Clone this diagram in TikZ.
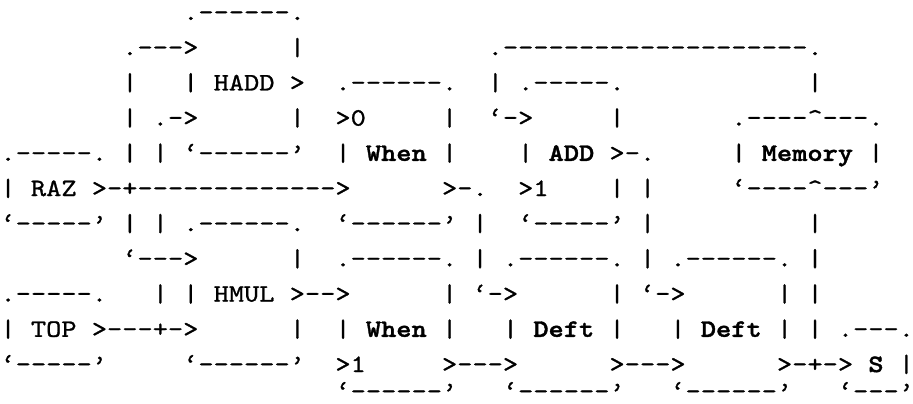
\documentclass[tikz,border=0pt]{standalone}
\usepackage{fontspec}
\newfontfamily\asc{lmmono10-regular.otf}[FakeStretch=1.16,FakeBold=1]
\newfontfamily\ascb{lmmonolt10-bold.otf}[FakeStretch=1.16,FakeBold=1.6]
\newcommand\B[1]{{\ascb #1}}
\newcommand\ca{\char"5E\relax}
\begin{document}
\begin{tikzpicture}[x=0.5pt,y=-0.5pt,
  rowtxt/.style={anchor=base west, inner sep=0pt, outer sep=0pt,
    font=\fontsize{12.5pt}{12.5pt}\asc}]
\fill[white] (0,0) rectangle (913,403);
\useasboundingbox (0,0) rectangle (913,403);
\node[rowtxt] (r0)  at (0.5, 20.0) {~~~~~~~~~~~~.------.};
\node[rowtxt] (r1)  at (0.5, 55.2) {~~~~~~~~.--->~~~~~~|~~~~~~~~~~~~.--------------------.};
\node[rowtxt] (r2)  at (0.5, 90.4) {~~~~~~~~|~~~|~HADD~>~~.------.~~|~.-----.~~~~~~~~~~~~|};
\node[rowtxt] (r3)  at (0.5,125.6) {~~~~~~~~|~.->~~~~~~|~~>0~~~~~|~~‘->~~~~~|~~~~~~~.----\ca---.};
\node[rowtxt] (r4)  at (0.5,160.8) {.-----.~|~|~‘------’~~|~\B{When}~|~~~~|~\B{ADD}~>-.~~~~~|~\B{Memory}~|};
\node[rowtxt] (r5)  at (0.5,196.0) {|~RAZ~>-+------------->~~~~~~>-.~~>1~~~~|~|~~~~~‘----\ca---’};
\node[rowtxt] (r6)  at (0.5,231.2) {‘-----’~|~|~.------.~~‘------’~|~~‘-----’~|~~~~~~~~~~|};
\node[rowtxt] (r7)  at (0.5,266.4) {~~~~~~~~‘--->~~~~~~|~~.------.~|~.------.~|~.------.~|};
\node[rowtxt] (r8)  at (0.5,301.6) {.-----.~~~|~|~HMUL~>-->~~~~~~|~‘->~~~~~~|~‘->~~~~~~|~|};
\node[rowtxt] (r9)  at (0.5,336.8) {|~TOP~>---+->~~~~~~|~~|~\B{When}~|~~~|~\B{Deft}~|~~~|~\B{Deft}~|~|~.---.};
\node[rowtxt] (r10) at (0.5,372.0) {‘-----’~~~~~‘------’~~>1~~~~~>--->~~~~~~>--->~~~~~~>-+->~\B{S}~|};
\node[rowtxt] (r11) at (0.5,399.0) {~~~~~~~~~~~~~~~~~~~~~~‘------’~~~‘------’~~~‘------’~~~‘---’};
\end{tikzpicture}
\end{document}
